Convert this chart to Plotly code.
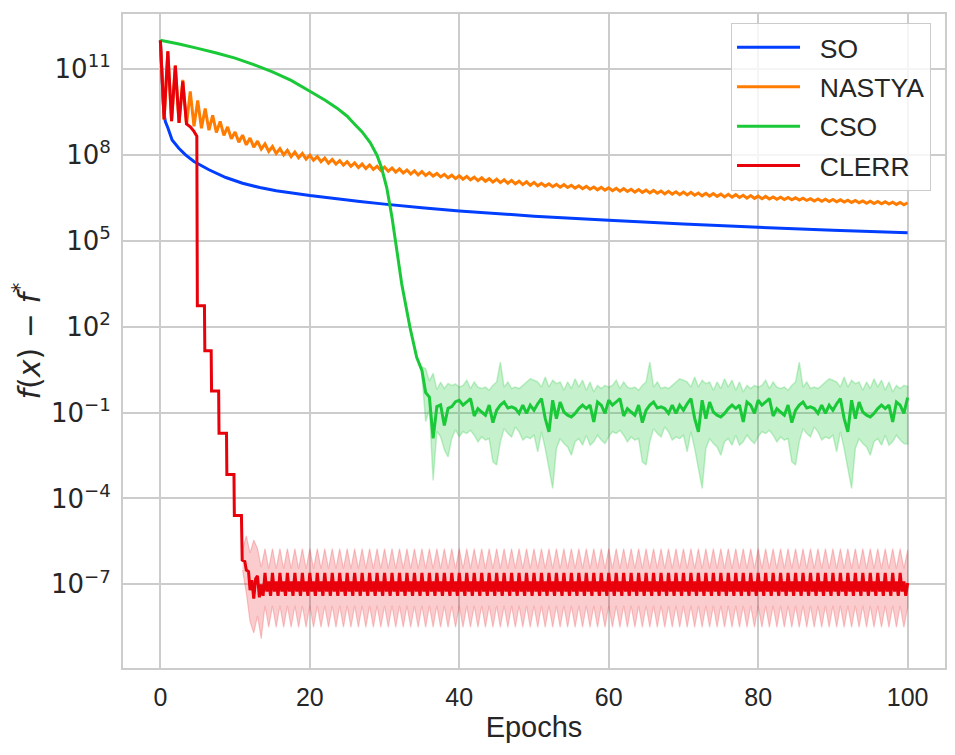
import numpy as np
import plotly.graph_objects as go

# ---------------- data (log10 of f(x) - f*) ----------------
SO_EPOCHS = [0, 0.1, 0.25, 0.45, 0.67, 1.0, 1.57, 2.47, 3.37, 4.49, 6.5, 8.76, 11.0,
             13.3, 15.5, 20, 26.7, 30, 35, 40, 50, 60, 70, 80, 90, 100]
SO_LOG10 = [12.0, 11.45, 10.6, 9.52, 9.16, 8.95, 8.52, 8.23, 8.0, 7.77, 7.48, 7.21, 7.01,
            6.86, 6.75, 6.58, 6.37, 6.28, 6.15, 6.04, 5.86, 5.72, 5.59, 5.47, 5.37, 5.28]

# NASTYA: peaks at integer epochs 0..100, troughs at n+0.5 for n = 0..99
NASTYA_PEAK_LOG10 = [
    12.00, 11.62, 11.12, 10.62, 10.22, 9.90, 9.62, 9.38, 9.17, 8.98,
    8.80, 8.69, 8.59, 8.48, 8.38, 8.29, 8.22, 8.16, 8.10, 8.05,
    7.99, 7.94, 7.89, 7.84, 7.80, 7.76, 7.72, 7.68, 7.65, 7.60,
    7.57, 7.54, 7.51, 7.47, 7.44, 7.42, 7.38, 7.35, 7.32, 7.29,
    7.27, 7.25, 7.22, 7.20, 7.17, 7.15, 7.13, 7.11, 7.08, 7.06,
    7.04, 7.01, 6.99, 6.97, 6.96, 6.94, 6.92, 6.90, 6.88, 6.87,
    6.85, 6.83, 6.82, 6.80, 6.79, 6.77, 6.76, 6.74, 6.73, 6.71,
    6.70, 6.69, 6.67, 6.66, 6.65, 6.63, 6.62, 6.61, 6.59, 6.58,
    6.56, 6.55, 6.53, 6.52, 6.51, 6.50, 6.49, 6.47, 6.46, 6.45,
    6.44, 6.43, 6.42, 6.41, 6.39, 6.38, 6.37, 6.36, 6.35, 6.34,
    6.33]
NASTYA_TROUGH_LOG10 = [
    9.24, 9.18, 9.12, 9.06, 9.00, 8.93, 8.86, 8.78, 8.68, 8.56,
    8.44, 8.35, 8.27, 8.20, 8.12, 8.05, 8.00, 7.94, 7.90, 7.85,
    7.81, 7.76, 7.71, 7.68, 7.64, 7.60, 7.56, 7.52, 7.49, 7.46,
    7.43, 7.40, 7.37, 7.33, 7.30, 7.28, 7.26, 7.23, 7.20, 7.17,
    7.15, 7.13, 7.10, 7.08, 7.05, 7.03, 7.01, 6.99, 6.96, 6.94,
    6.92, 6.91, 6.89, 6.87, 6.86, 6.84, 6.82, 6.80, 6.78, 6.77,
    6.75, 6.73, 6.72, 6.70, 6.69, 6.67, 6.66, 6.64, 6.63, 6.61,
    6.60, 6.59, 6.57, 6.56, 6.55, 6.53, 6.52, 6.51, 6.49, 6.48,
    6.47, 6.46, 6.45, 6.44, 6.43, 6.42, 6.41, 6.39, 6.38, 6.37,
    6.36, 6.35, 6.34, 6.33, 6.31, 6.30, 6.29, 6.28, 6.27, 6.26]

# CSO: smooth head, then noisy tail sampled every 0.5 epoch from 35 to 100
CSO_HEAD_EPOCHS = [0, 2.5, 5, 7.5, 10, 12.5, 15, 17.5, 20, 22, 23.6, 25, 26, 27, 28.1,
                   29, 29.6, 30.3, 31.0, 31.6, 32.3, 33.4, 34.3]
CSO_HEAD_LOG10 = [12.0, 11.87, 11.72, 11.56, 11.38, 11.15, 10.90, 10.60, 10.22, 9.92,
                  9.64, 9.35, 9.07, 8.80, 8.42, 7.98, 7.55, 6.85, 5.81, 4.75, 3.49,
                  1.98, 0.93]
CSO_TAIL_MEAN_LOG10 = [
    0.47, -0.30, -0.46, -1.90, -0.79, -0.73, -1.45, -0.85, -0.79, -0.62,
    -0.57, -0.74, -0.63, -0.51, -1.12, -0.86, -0.98, -1.09, -0.74, -1.35,
    -0.92, -0.74, -0.63, -0.84, -0.80, -0.86, -1.03, -0.74, -1.03, -0.74,
    -0.92, -0.69, -0.51, -1.20, -1.67, -0.57, -1.21, -0.63, -0.98, -1.09,
    -1.15, -1.03, -0.86, -0.74, -0.86, -0.74, -1.33, -0.63, -0.74, -1.03,
    -0.57, -0.74, -0.63, -0.51, -1.12, -0.86, -0.98, -1.09, -0.74, -1.35,
    -0.92, -0.74, -0.63, -0.84, -0.80, -0.86, -1.03, -0.74, -1.03, -0.74,
    -0.92, -0.69, -0.51, -1.20, -1.67, -0.57, -1.21, -0.63, -0.98, -1.09,
    -1.15, -1.03, -0.86, -0.74, -0.86, -0.74, -1.33, -0.63, -0.74, -1.03,
    -0.57, -0.74, -0.63, -0.51, -1.12, -0.86, -0.98, -1.09, -0.74, -1.35,
    -0.92, -0.74, -0.63, -0.84, -0.80, -0.86, -1.03, -0.74, -1.03, -0.74,
    -0.92, -0.69, -0.51, -1.20, -1.67, -0.57, -1.21, -0.63, -0.98, -1.09,
    -1.15, -1.03, -0.86, -0.74, -0.86, -0.74, -1.33, -0.63, -0.74, -1.03,
    -0.48]
CSO_TAIL_UPPER_LOG10 = [
    0.60, 0.53, 0.10, 0.37, -0.20, 0.06, -0.16, 0.02, -0.05, 0.00,
    -0.11, -0.05, 0.13, -0.16, 0.07, -0.11, -0.16, -0.11, -0.22, -0.05,
    0.07, 0.76, -0.11, 0.07, -0.16, -0.11, -0.16, -0.05, 0.07, 0.18,
    0.13, 0.07, -0.11, 0.24, -0.11, 0.13, 0.01, 0.07, -0.22, 0.07,
    -0.16, 0.18, -0.11, 0.13, -0.22, 0.07, -0.28, -0.05, -0.16, -0.05,
    -0.11, -0.05, 0.13, -0.16, 0.07, -0.11, -0.16, -0.11, -0.22, -0.05,
    0.07, 0.76, -0.11, 0.07, -0.16, -0.11, -0.16, -0.05, 0.07, 0.18,
    0.13, 0.07, -0.11, 0.24, -0.11, 0.13, 0.01, 0.07, -0.22, 0.07,
    -0.16, 0.18, -0.11, 0.13, -0.22, 0.07, -0.28, -0.05, -0.16, -0.05,
    -0.11, -0.05, 0.13, -0.16, 0.07, -0.11, -0.16, -0.11, -0.22, -0.05,
    0.07, 0.76, -0.11, 0.07, -0.16, -0.11, -0.16, -0.05, 0.07, 0.18,
    0.13, 0.07, -0.11, 0.24, -0.11, 0.13, 0.01, 0.07, -0.22, 0.07,
    -0.16, 0.18, -0.11, 0.13, -0.22, 0.07, -0.28, -0.05, -0.16, -0.05,
    -0.08]
CSO_TAIL_LOWER_LOG10 = [
    0.30, -1.31, -0.90, -3.37, -1.66, -1.84, -2.30, -2.55, -1.90, -1.60,
    -1.84, -1.67, -1.73, -1.62, -1.79, -2.02, -1.85, -1.96, -1.91, -2.72,
    -2.83, -2.02, -1.56, -1.73, -1.85, -1.50, -1.67, -1.96, -1.85, -1.91,
    -1.79, -2.37, -1.67, -2.25, -2.95, -3.65, -2.25, -1.91, -2.08, -2.20,
    -2.49, -2.02, -1.91, -2.14, -1.79, -2.14, -2.02, -1.79, -1.96, -2.08,
    -1.84, -1.67, -1.73, -1.62, -1.79, -2.02, -1.85, -1.96, -1.91, -2.72,
    -2.83, -2.02, -1.56, -1.73, -1.85, -1.50, -1.67, -1.96, -1.85, -1.91,
    -1.79, -2.37, -1.67, -2.25, -2.95, -3.65, -2.25, -1.91, -2.08, -2.20,
    -2.49, -2.02, -1.91, -2.14, -1.79, -2.14, -2.02, -1.79, -1.96, -2.08,
    -1.84, -1.67, -1.73, -1.62, -1.79, -2.02, -1.85, -1.96, -1.91, -2.72,
    -2.83, -2.02, -1.56, -1.73, -1.85, -1.50, -1.67, -1.96, -1.85, -1.91,
    -1.79, -2.37, -1.67, -2.25, -2.95, -3.65, -2.25, -1.91, -2.08, -2.20,
    -2.49, -2.02, -1.91, -2.14, -1.79, -2.14, -2.02, -1.79, -1.96, -2.08,
    -2.10]

# CLERR: oscillating head and staircase, then tail sampled every 0.25 epoch from 12 to 100
CLERR_HEAD_EPOCHS = [0, 0.5, 1, 1.5, 2, 2.5, 3, 3.5, 4.0, 4.5, 4.88, 4.95, 5.9, 5.95, 6.8,
                     6.85, 7.8, 7.85, 8.85, 8.9, 9.85, 9.9, 10.85, 10.95, 11.3, 11.5, 11.8]
CLERR_HEAD_LOG10 = [12.0, 9.24, 11.62, 9.18, 11.12, 9.12, 10.57, 9.08, 8.98, 8.82, 8.65,
                    2.73, 2.73, 1.16, 1.16, -0.25, -0.25, -1.72, -1.72, -3.16, -3.16,
                    -4.59, -4.59, -6.15, -6.20, -6.50, -6.55]
CLERR_TAIL_MEAN_LOG10 = [
    -7.20, -6.85, -7.50, -6.80, -6.70, -7.45, -7.00, -7.40,
    -6.60, -7.25, -6.90, -7.40, -6.60, -7.25, -6.90, -7.40,
    -6.60, -7.25, -6.90, -7.40, -6.60, -7.25, -6.90, -7.40,
    -6.60, -7.25, -6.90, -7.40, -6.60, -7.25, -6.90, -7.40,
    -6.60, -7.25, -6.90, -7.40, -6.60, -7.25, -6.90, -7.40,
    -6.60, -7.25, -6.90, -7.40, -6.60, -7.25, -6.90, -7.40,
    -6.60, -7.25, -6.90, -7.40, -6.60, -7.25, -6.90, -7.40,
    -6.60, -7.25, -6.90, -7.40, -6.60, -7.25, -6.90, -7.40,
    -6.60, -7.25, -6.90, -7.40, -6.60, -7.25, -6.90, -7.40,
    -6.60, -7.25, -6.90, -7.40, -6.60, -7.25, -6.90, -7.40,
    -6.60, -7.25, -6.90, -7.40, -6.60, -7.25, -6.90, -7.40,
    -6.60, -7.25, -6.90, -7.40, -6.60, -7.25, -6.90, -7.40,
    -6.60, -7.25, -6.90, -7.40, -6.60, -7.25, -6.90, -7.40,
    -6.60, -7.25, -6.90, -7.40, -6.60, -7.25, -6.90, -7.40,
    -6.60, -7.25, -6.90, -7.40, -6.60, -7.25, -6.90, -7.40,
    -6.60, -7.25, -6.90, -7.40, -6.60, -7.25, -6.90, -7.40,
    -6.60, -7.25, -6.90, -7.40, -6.60, -7.25, -6.90, -7.40,
    -6.60, -7.25, -6.90, -7.40, -6.60, -7.25, -6.90, -7.40,
    -6.60, -7.25, -6.90, -7.40, -6.60, -7.25, -6.90, -7.40,
    -6.60, -7.25, -6.90, -7.40, -6.60, -7.25, -6.90, -7.40,
    -6.60, -7.25, -6.90, -7.40, -6.60, -7.25, -6.90, -7.40,
    -6.60, -7.25, -6.90, -7.40, -6.60, -7.25, -6.90, -7.40,
    -6.60, -7.25, -6.90, -7.40, -6.60, -7.25, -6.90, -7.40,
    -6.60, -7.25, -6.90, -7.40, -6.60, -7.25, -6.90, -7.40,
    -6.60, -7.25, -6.90, -7.40, -6.60, -7.25, -6.90, -7.40,
    -6.60, -7.25, -6.90, -7.40, -6.60, -7.25, -6.90, -7.40,
    -6.60, -7.25, -6.90, -7.40, -6.60, -7.25, -6.90, -7.40,
    -6.60, -7.25, -6.90, -7.40, -6.60, -7.25, -6.90, -7.40,
    -6.60, -7.25, -6.90, -7.40, -6.60, -7.25, -6.90, -7.40,
    -6.60, -7.25, -6.90, -7.40, -6.60, -7.25, -6.90, -7.40,
    -6.60, -7.25, -6.90, -7.40, -6.60, -7.25, -6.90, -7.40,
    -6.60, -7.25, -6.90, -7.40, -6.60, -7.25, -6.90, -7.40,
    -6.60, -7.25, -6.90, -7.40, -6.60, -7.25, -6.90, -7.40,
    -6.60, -7.25, -6.90, -7.40, -6.60, -7.25, -6.90, -7.40,
    -6.60, -7.25, -6.90, -7.40, -6.60, -7.25, -6.90, -7.40,
    -6.60, -7.25, -6.90, -7.40, -6.60, -7.25, -6.90, -7.40,
    -6.60, -7.25, -6.90, -7.40, -6.60, -7.25, -6.90, -7.40,
    -6.60, -7.25, -6.90, -7.40, -6.60, -7.25, -6.90, -7.40,
    -6.60, -7.25, -6.90, -7.40, -6.60, -7.25, -6.90, -7.40,
    -6.60, -7.25, -6.90, -7.40, -6.60, -7.25, -6.90, -7.40,
    -6.60, -7.25, -6.90, -7.40, -6.60, -7.25, -6.90, -7.40,
    -6.60, -7.25, -6.90, -7.40, -6.60, -7.25, -6.90, -7.40,
    -6.60, -7.25, -6.90, -7.40, -6.60, -7.25, -6.90, -7.40,
    -6.60, -7.25, -6.90, -7.40, -6.60, -7.25, -6.90, -7.40,
    -6.95]
# CLERR spread band, sampled every 0.5 epoch from 11 to 100
CLERR_BAND_UPPER_LOG10 = [
    -5.80, -5.30, -5.90, -5.45, -5.75, -6.40,
    -5.75, -6.45, -5.75, -6.45, -5.75, -6.45, -5.75, -6.45, -5.75, -6.45,
    -5.75, -6.45, -5.75, -6.45, -5.75, -6.45, -5.75, -6.45, -5.75, -6.45,
    -5.75, -6.45, -5.75, -6.45, -5.75, -6.45, -5.75, -6.45, -5.75, -6.45,
    -5.75, -6.45, -5.75, -6.45, -5.75, -6.45, -5.75, -6.45, -5.75, -6.45,
    -5.75, -6.45, -5.75, -6.45, -5.75, -6.45, -5.75, -6.45, -5.75, -6.45,
    -5.75, -6.45, -5.75, -6.45, -5.75, -6.45, -5.75, -6.45, -5.75, -6.45,
    -5.75, -6.45, -5.75, -6.45, -5.75, -6.45, -5.75, -6.45, -5.75, -6.45,
    -5.75, -6.45, -5.75, -6.45, -5.75, -6.45, -5.75, -6.45, -5.75, -6.45,
    -5.75, -6.45, -5.75, -6.45, -5.75, -6.45, -5.75, -6.45, -5.75, -6.45,
    -5.75, -6.45, -5.75, -6.45, -5.75, -6.45, -5.75, -6.45, -5.75, -6.45,
    -5.75, -6.45, -5.75, -6.45, -5.75, -6.45, -5.75, -6.45, -5.75, -6.45,
    -5.75, -6.45, -5.75, -6.45, -5.75, -6.45, -5.75, -6.45, -5.75, -6.45,
    -5.75, -6.45, -5.75, -6.45, -5.75, -6.45, -5.75, -6.45, -5.75, -6.45,
    -5.75, -6.45, -5.75, -6.45, -5.75, -6.45, -5.75, -6.45, -5.75, -6.45,
    -5.75, -6.45, -5.75, -6.45, -5.75, -6.45, -5.75, -6.45, -5.75, -6.45,
    -5.75, -6.45, -5.75, -6.45, -5.75, -6.45, -5.75, -6.45, -5.75, -6.45,
    -5.75, -6.45, -5.75, -6.45, -5.75, -6.45, -5.75, -6.45, -5.75, -6.45,
    -5.75, -6.45,
    -5.80]
CLERR_BAND_LOWER_LOG10 = [
    -6.50, -7.30, -8.30, -8.70, -8.10, -8.90,
    -7.75, -8.50, -7.75, -8.50, -7.75, -8.50, -7.75, -8.50, -7.75, -8.50,
    -7.75, -8.50, -7.75, -8.50, -7.75, -8.50, -7.75, -8.50, -7.75, -8.50,
    -7.75, -8.50, -7.75, -8.50, -7.75, -8.50, -7.75, -8.50, -7.75, -8.50,
    -7.75, -8.50, -7.75, -8.50, -7.75, -8.50, -7.75, -8.50, -7.75, -8.50,
    -7.75, -8.50, -7.75, -8.50, -7.75, -8.50, -7.75, -8.50, -7.75, -8.50,
    -7.75, -8.50, -7.75, -8.50, -7.75, -8.50, -7.75, -8.50, -7.75, -8.50,
    -7.75, -8.50, -7.75, -8.50, -7.75, -8.50, -7.75, -8.50, -7.75, -8.50,
    -7.75, -8.50, -7.75, -8.50, -7.75, -8.50, -7.75, -8.50, -7.75, -8.50,
    -7.75, -8.50, -7.75, -8.50, -7.75, -8.50, -7.75, -8.50, -7.75, -8.50,
    -7.75, -8.50, -7.75, -8.50, -7.75, -8.50, -7.75, -8.50, -7.75, -8.50,
    -7.75, -8.50, -7.75, -8.50, -7.75, -8.50, -7.75, -8.50, -7.75, -8.50,
    -7.75, -8.50, -7.75, -8.50, -7.75, -8.50, -7.75, -8.50, -7.75, -8.50,
    -7.75, -8.50, -7.75, -8.50, -7.75, -8.50, -7.75, -8.50, -7.75, -8.50,
    -7.75, -8.50, -7.75, -8.50, -7.75, -8.50, -7.75, -8.50, -7.75, -8.50,
    -7.75, -8.50, -7.75, -8.50, -7.75, -8.50, -7.75, -8.50, -7.75, -8.50,
    -7.75, -8.50, -7.75, -8.50, -7.75, -8.50, -7.75, -8.50, -7.75, -8.50,
    -7.75, -8.50, -7.75, -8.50, -7.75, -8.50, -7.75, -8.50, -7.75, -8.50,
    -7.75, -8.50,
    -7.80]

SERIES_NAMES = ["SO", "NASTYA", "CSO", "CLERR"]
Y_TICK_EXP = [-7, -4, -1, 2, 5, 8, 11]
X_TICKS = [0, 20, 40, 60, 80, 100]

# ---------------- build ----------------
COL = {"SO": "#023eff", "NASTYA": "#ff7c00", "CSO": "#1ac938", "CLERR": "#e8000b"}
PAD = "\u00a0\u00a0"  # small gap between legend line and label

nastya_x, nastya_y = [], []
for n, pk in enumerate(NASTYA_PEAK_LOG10):
    nastya_x.append(n); nastya_y.append(pk)
    if n < len(NASTYA_TROUGH_LOG10):
        nastya_x.append(n + 0.5); nastya_y.append(NASTYA_TROUGH_LOG10[n])

cso_tail_x = list(np.arange(len(CSO_TAIL_MEAN_LOG10)) * 0.5 + 35.0)
clerr_tail_x = list(np.arange(len(CLERR_TAIL_MEAN_LOG10)) * 0.25 + 12.0)
clerr_band_x = list(np.arange(len(CLERR_BAND_UPPER_LOG10)) * 0.5 + 11.0)


def p10(v):
    return list(np.power(10.0, np.asarray(v, dtype=float)))


def band(x, up, lo, fill, edge, ew):
    return go.Scatter(x=list(x) + list(x)[::-1], y=p10(up) + p10(lo)[::-1],
                      fill="toself", fillcolor=fill, mode="lines",
                      line=dict(color=edge, width=ew, simplify=False),
                      hoverinfo="skip", showlegend=False)


def line(x, y, name, group):
    return go.Scatter(x=x, y=p10(y), mode="lines", name=PAD + name, legendgroup=group,
                      line=dict(color=COL[name], width=3, simplify=False))


fig = go.Figure()
fig.add_trace(line(SO_EPOCHS, SO_LOG10, SERIES_NAMES[0], "a"))
fig.add_trace(line(nastya_x, nastya_y, SERIES_NAMES[1], "b"))
fig.add_trace(band(cso_tail_x, CSO_TAIL_UPPER_LOG10, CSO_TAIL_LOWER_LOG10,
                   "rgba(26,201,56,0.25)", "rgba(26,201,56,0.25)", 1.5))
fig.add_trace(line(CSO_HEAD_EPOCHS + cso_tail_x, CSO_HEAD_LOG10 + CSO_TAIL_MEAN_LOG10,
                   SERIES_NAMES[2], "c"))
fig.add_trace(band(clerr_band_x, CLERR_BAND_UPPER_LOG10, CLERR_BAND_LOWER_LOG10,
                   "rgba(232,0,11,0.2)", "rgba(232,0,11,0.2)", 1.2))
fig.add_trace(line(CLERR_HEAD_EPOCHS + clerr_tail_x, CLERR_HEAD_LOG10 + CLERR_TAIL_MEAN_LOG10,
                   SERIES_NAMES[3], "d"))

ytickvals = [10.0 ** e for e in Y_TICK_EXP]
yticktext = ["10<sup>%s</sup>" % (str(e).replace("-", "\u2212")) for e in Y_TICK_EXP]

# the page body has an 8px margin, so the figure is sized/shifted to compensate
fig.update_layout(
    width=947, height=747,
    margin=dict(l=115, r=10, t=4, b=87),
    paper_bgcolor="white", plot_bgcolor="white",
    font=dict(family="Liberation Sans, Arial, sans-serif", size=25, color="#262626"),
    legend=dict(x=0.983, y=0.987, xanchor="right", yanchor="top",
                bgcolor="rgba(255,255,255,0.8)", bordercolor="#cccccc", borderwidth=1,
                font=dict(size=26.5), tracegroupgap=2, itemwidth=63),
)
fig.update_xaxes(range=[-5, 105], tickvals=X_TICKS, showgrid=True, gridcolor="#cccccc",
                 gridwidth=1.5, zeroline=False, showline=True, linecolor="#cccccc",
                 linewidth=2, mirror=True, ticks="outside", ticklen=6,
                 tickcolor="rgba(0,0,0,0)",
                 title=dict(text="Epochs", font=dict(size=29), standoff=7))
fig.update_yaxes(type="log", range=[-9.92, 12.92], tickvals=ytickvals, ticktext=yticktext,
                 showgrid=True, gridcolor="#cccccc", gridwidth=1.5, zeroline=False,
                 showline=True, linecolor="#cccccc", linewidth=2, mirror=True,
                 ticks="outside", ticklen=5, tickcolor="rgba(0,0,0,0)",
                 tickfont=dict(family="DejaVu Sans", size=26),
                 title=dict(text="<i>f</i>(<i>x</i>) \u2212 <i>f</i><sup>*</sup>",
                            font=dict(family="DejaVu Sans", size=30), standoff=4))

fig.write_html("out.html")
